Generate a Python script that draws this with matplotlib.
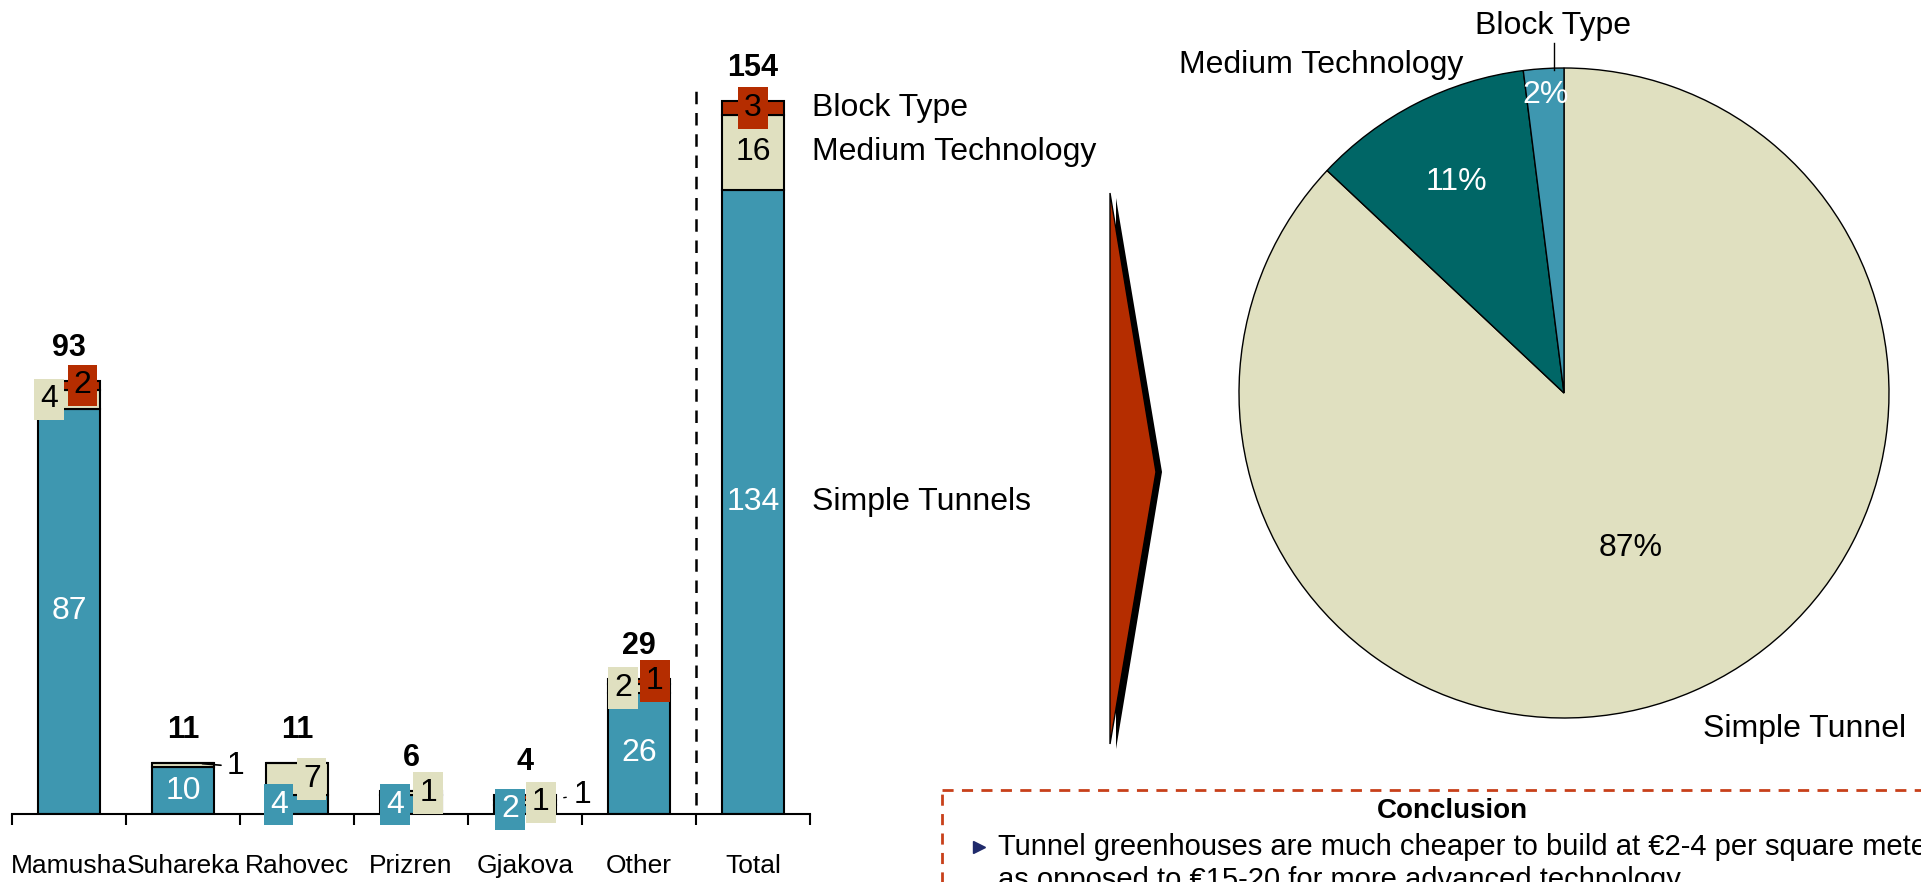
import matplotlib

matplotlib.use("Agg")
import matplotlib.pyplot as plt  # noqa: E402
import numpy as np  # noqa: E402
from matplotlib.patches import Polygon, Rectangle  # noqa: E402

plt.rcParams["font.family"] = ["Liberation Sans", "DejaVu Sans"]
NARROW = ["Liberation Sans Narrow", "Liberation Sans", "DejaVu Sans"]

# --- data -------------------------------------------------------------------
categories = ["Mamusha", "Suhareka", "Rahovec", "Prizren", "Gjakova", "Other", "Total"]
simple_tunnels = [87, 10, 4, 4, 2, 26, 134]
medium_tech = [4, 1, 7, 1, 1, 2, 16]
block_type = [2, 0, 0, 0, 1, 1, 3]
totals = [93, 11, 11, 6, 4, 29, 154]
series_names = ["Simple Tunnels", "Medium Technology", "Block Type"]

pie_labels = ["Simple Tunnel", "Medium Technology", "Block Type"]
pie_shares = [87, 11, 2]

conclusion_title = "Conclusion"
conclusion_lines = [
    "Tunnel greenhouses are much cheaper to build at €2-4 per square meter",
    "as opposed to €15-20 for more advanced technology",
]

BLUE = "#3E97B0"
BEIGE = "#E0E0C0"
RED = "#B52D00"
TEAL = "#006666"
W, H = 1921, 882


def fig_rect(x0, y0, x1, y1):
    """Pixel box (top-left origin) to figure fraction rect."""
    return [x0 / W, 1 - y1 / H, (x1 - x0) / W, (y1 - y0) / H]


fig = plt.figure(figsize=(W / 100, H / 100), dpi=100)

# overlay in pixel coordinates for chevron and conclusion box
oax = fig.add_axes([0, 0, 1, 1])
oax.set_xlim(0, W)
oax.set_ylim(H, 0)
oax.axis("off")
oax.add_patch(Polygon([(1116, 198), (1162, 472), (1116, 749)], closed=True, fc="black", ec="none"))
oax.add_patch(Polygon([(1110, 193), (1156, 472), (1110, 744)], closed=True, fc=RED, ec="black", lw=1))
oax.add_patch(Rectangle((942, 790), 1200, 300, fill=False, ec="#C8401A", lw=2, ls=(0, (4, 3))))
oax.text(1452, 811, conclusion_title, ha="center", va="center", fontsize=20,
         fontweight="bold", family=NARROW)
oax.plot([979], [847], marker=">", ms=9, color="#1F2A6B", ls="none")
for k, line in enumerate(conclusion_lines):
    oax.text(998, 847 + 33 * k, line, ha="left", va="center", fontsize=21, family=NARROW)

# --- stacked bars -------------------------------------------------------------
px_per_unit = 4.66
ax = fig.add_axes(fig_rect(12, 814 - 160 * px_per_unit, 810, 814))
x = np.arange(len(categories))
s = np.array(simple_tunnels)
m = np.array(medium_tech)
b = np.array(block_type)
bar_kw = dict(width=0.55, edgecolor="black", linewidth=1.5)
ax.bar(x, s, color=BLUE, **bar_kw)
ax.bar(x, m, bottom=s, color=BEIGE, **bar_kw)
ax.bar(x, b, bottom=s + m, color=RED, **bar_kw)
ax.set_xlim(-0.5, len(categories) - 0.5)
ax.set_ylim(0, 160)

for side in ("left", "top", "right"):
    ax.spines[side].set_visible(False)
ax.spines["bottom"].set_linewidth(1.5)
ax.set_yticks([])
ax.set_xticks(np.arange(-0.5, len(categories), 1))
ax.set_xticklabels([])
ax.tick_params(axis="x", which="major", length=8, width=1.5, direction="out")
ax.set_xticks(x, minor=True)
ax.set_xticklabels(categories, minor=True, fontsize=19)
ax.tick_params(axis="x", which="minor", length=0, pad=29)

ax.vlines(5.5, 2, 155.8, colors="black", linestyles=(0, (5, 3.5)), lw=1.8)

SEG_FS = 23


def box(color):
    return dict(boxstyle="square,pad=0.18", fc=color, ec="none")


# label offsets (in category units) for the crowded small segments
blue_dx = [0, 0, -0.16, -0.14, -0.13, 0, 0]
beige_dx = [-0.175, None, 0.13, 0.15, 0.14, -0.14, 0]
red_dx = [0.12, None, None, None, None, 0.14, 0]
small = [False, False, True, True, True, False, False]

for i in range(len(categories)):
    kw = dict(ha="center", va="center", fontsize=SEG_FS)
    # simple tunnels
    if small[i]:
        ax.text(i + blue_dx[i], s[i] / 2, str(s[i]), color="white", bbox=box(BLUE), **kw)
    else:
        ax.text(i, s[i] / 2, str(s[i]), color="white", **kw)
    # medium technology
    ym = s[i] + m[i] / 2
    if beige_dx[i] is None:
        ax.annotate(str(m[i]), (i + 0.17, ym + 0.3), xytext=(i + 0.46, ym - 0.3),
                    ha="center", va="center", fontsize=SEG_FS, zorder=5,
                    arrowprops=dict(arrowstyle="-", lw=1.2, shrinkA=2, shrinkB=0))
    elif i == len(categories) - 1:
        ax.text(i, ym, str(m[i]), **kw)
    else:
        ax.text(i + beige_dx[i], ym, str(m[i]), bbox=box(BEIGE), **kw)
    # block type
    if b[i] > 0:
        yb = s[i] + m[i] + b[i] / 2
        if red_dx[i] is None:
            ax.annotate(str(b[i]), (i + 0.34, yb), xytext=(i + 0.5, yb + 0.6),
                        ha="center", va="center", fontsize=SEG_FS, zorder=5,
                        arrowprops=dict(arrowstyle="-", lw=1, shrinkA=3, shrinkB=0))
        else:
            ax.text(i + red_dx[i], yb, str(b[i]), bbox=box(RED), **kw)
    # total on top
    ax.annotate(str(totals[i]), (i, s[i] + m[i] + b[i]), xytext=(0, 13),
                textcoords="offset points", ha="center", va="bottom",
                fontsize=22, fontweight="bold")

last = len(categories) - 1
centers = [s[last] / 2, s[last] + m[last] / 2, s[last] + m[last] + b[last] / 2]
for name, yc in zip(series_names, centers):
    ax.text(6.52, yc, name, ha="left", va="center", fontsize=SEG_FS)

# --- pie ----------------------------------------------------------------------
cx, cy, r = 1564, 393, 325
pax = fig.add_axes(fig_rect(cx - r, cy - r, cx + r, cy + r))
wedges, _ = pax.pie(pie_shares, colors=[BEIGE, TEAL, BLUE], startangle=90,
                    counterclock=False, radius=1,
                    wedgeprops=dict(edgecolor="black", linewidth=1))
pax.set_xlim(-1, 1)
pax.set_ylim(-1, 1)
pax.set_aspect("equal")
pax.axis("off")

pct_r = [0.52, 0.73, 0.92]
pct_col = ["black", "white", "white"]
for w, share, rr, col in zip(wedges, pie_shares, pct_r, pct_col):
    ang = np.deg2rad((w.theta1 + w.theta2) / 2)
    pax.text(rr * np.cos(ang), rr * np.sin(ang), f"{share}%", ha="center",
             va="center", fontsize=23, color=col, family=NARROW)

pax.text(0.74, -1.035, pie_labels[0], ha="center", va="center", fontsize=23,
         family=NARROW, clip_on=False)
pax.text(-0.31, 1.01, pie_labels[1], ha="right", va="center", fontsize=23,
         family=NARROW, clip_on=False)
pax.text(-0.034, 1.13, pie_labels[2], ha="center", va="center", fontsize=23,
         family=NARROW, clip_on=False)
pax.plot([-0.03, -0.03], [1.077, 0.995], color="black", lw=1, clip_on=False)

fig.savefig("out.png", dpi=100)
plt.close(fig)
